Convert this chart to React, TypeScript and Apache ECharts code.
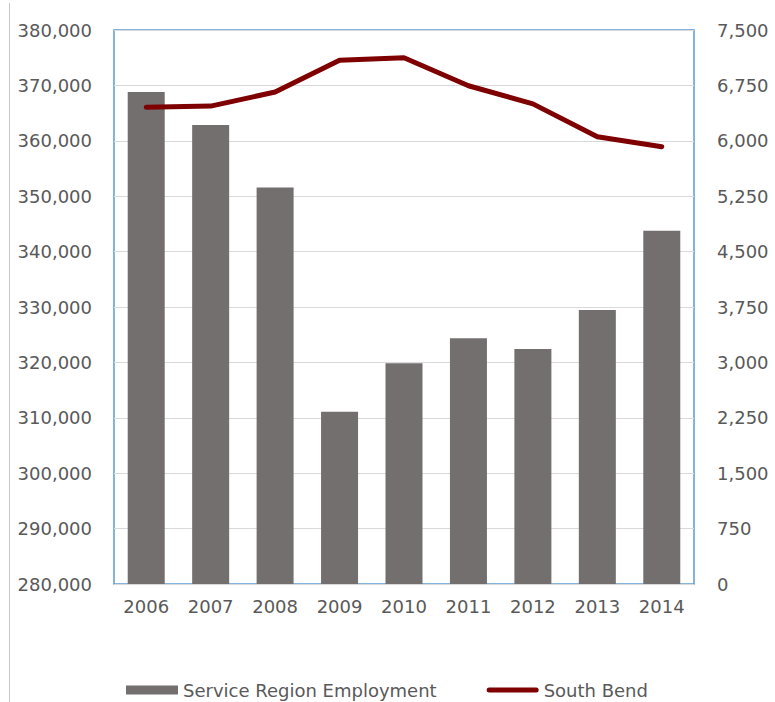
import React, { useEffect, useRef } from "react";
import * as echarts from "echarts";

const years = ["2006", "2007", "2008", "2009", "2010", "2011", "2012", "2013", "2014"];
const serviceRegionEmployment = [368800, 362850, 351550, 311100, 319850, 324350, 322400, 329450, 343750];
const southBend = [6455, 6470, 6660, 7090, 7125, 6745, 6500, 6055, 5920];

const fmt = (v: number) => v.toLocaleString("en-US");

export default function App() {
  const ref = useRef<HTMLDivElement>(null);
  useEffect(() => {
    if (!ref.current) return;
    const chart = echarts.init(ref.current, undefined, { renderer: "svg" });
    const font = "DejaVu Sans";
    const labelColor = "#595959";
    const fs = 18;
    chart.setOption({
      animation: false,
      backgroundColor: "#ffffff",
      grid: {
        left: 114,
        right: 81,
        top: 30,
        bottom: 118,
        show: true,
        borderColor: "#5B9BD5",
        borderWidth: 1.5,
        containLabel: false,
      },
      legend: {
        left: 121,
        top: 676,
        itemWidth: 52,
        itemHeight: 9,
        itemGap: 50,
        textStyle: { fontFamily: font, fontSize: fs, color: labelColor },
        data: [
          { name: "Service Region Employment", icon: "rect", itemStyle: { color: "#736F6E" } },
          {
            name: "South Bend",
            icon: "path://M0,0 M52,9 M2.5,2 L49.5,2 A2.5,2.5 0 0 1 49.5,7 L2.5,7 A2.5,2.5 0 0 1 2.5,2 Z",
            itemStyle: { color: "#7F0000" },
          },
        ],
      },
      xAxis: {
        type: "category",
        data: years,
        axisLine: { show: false },
        axisTick: { show: false },
        axisLabel: { fontFamily: font, fontSize: fs, color: labelColor, margin: 13 },
      },
      yAxis: [
        {
          type: "value",
          min: 280000,
          max: 380000,
          interval: 10000,
          axisLine: { show: false },
          axisTick: { show: false },
          splitLine: { show: true, lineStyle: { color: "#D9D9D9", width: 1 } },
          axisLabel: {
            fontFamily: font,
            fontSize: fs,
            color: labelColor,
            margin: 22,
            formatter: (v: number) => fmt(v),
          },
        },
        {
          type: "value",
          min: 0,
          max: 7500,
          interval: 750,
          position: "right",
          axisLine: { show: false },
          axisTick: { show: false },
          splitLine: { show: false },
          axisLabel: {
            fontFamily: font,
            fontSize: fs,
            color: labelColor,
            margin: 23,
            formatter: (v: number) => fmt(v),
          },
        },
      ],
      series: [
        {
          name: "Service Region Employment",
          type: "bar",
          yAxisIndex: 0,
          data: serviceRegionEmployment,
          barWidth: 37,
          itemStyle: { color: "#736F6E" },
          z: 2,
        },
        {
          name: "South Bend",
          type: "line",
          yAxisIndex: 1,
          data: southBend,
          symbol: "none",
          lineStyle: { color: "#7F0000", width: 5, cap: "round", join: "round" },
          itemStyle: { color: "#7F0000" },
          z: 3,
        },
      ],
      graphic: [
        {
          type: "line",
          shape: { x1: 9.5, y1: 3, x2: 9.5, y2: 702 },
          style: { stroke: "#C8C8C8", lineWidth: 1 },
          silent: true,
        },
      ],
    });
    return () => chart.dispose();
  }, []);
  return (
    <div
      ref={ref}
      style={{ position: "fixed", left: 0, top: 0, width: 775, height: 702 }}
    />
  );
}
